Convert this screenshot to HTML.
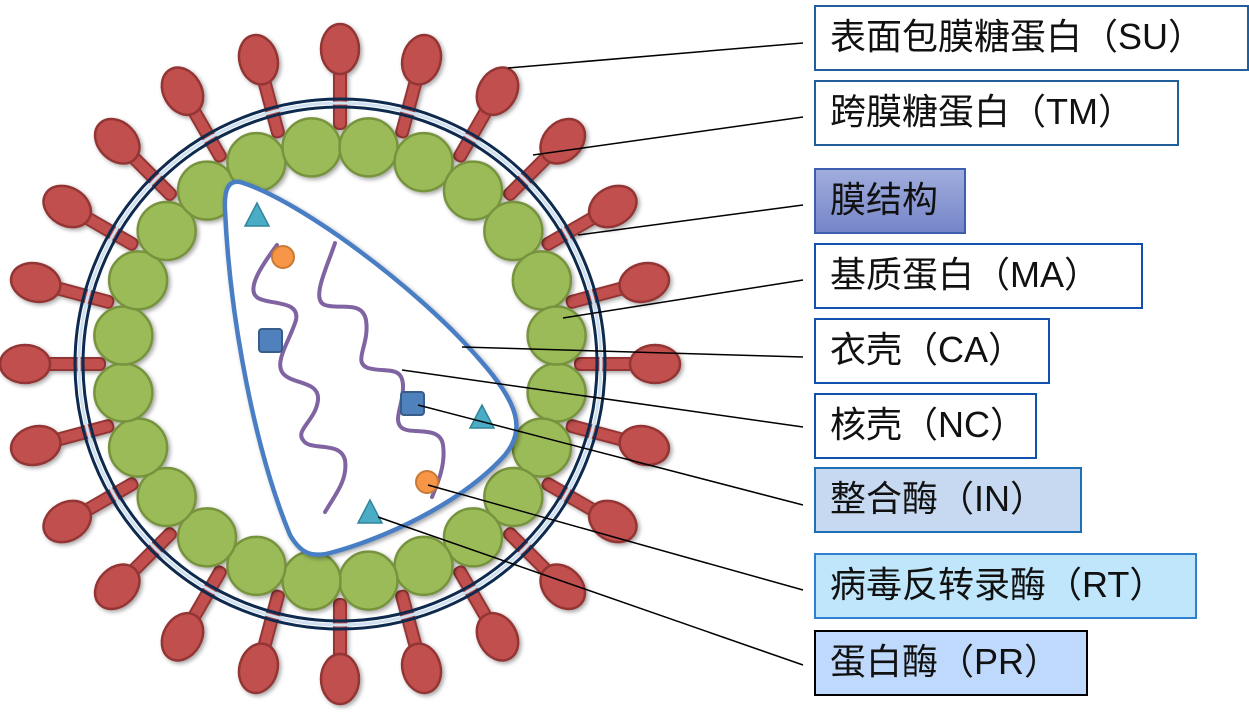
<!DOCTYPE html>
<html><head><meta charset="utf-8"><style>
body{margin:0;background:#fff;width:1249px;height:724px;overflow:hidden;position:relative;font-family:"Liberation Sans","Noto Sans CJK SC",sans-serif}
.b{position:absolute;box-sizing:border-box;border:2px solid #1f5f9a;font-size:36px;line-height:60px;padding-left:14px;color:#111;white-space:nowrap}
svg{position:absolute;left:0;top:0}
</style></head><body>
<svg width="1249" height="724" id="s">
<defs>
<filter id="sh" x="-20%" y="-20%" width="140%" height="140%"><feDropShadow dx="2" dy="2" stdDeviation="2" flood-opacity="0.35"/></filter>
</defs>
<g id="spikes" filter="url(#sh)"></g>
<circle cx="340" cy="364" r="265" fill="none" stroke="#0e2a4e" stroke-width="3"/>
<circle cx="340" cy="364" r="261" fill="none" stroke="#cfe0f0" stroke-width="3"/>
<circle cx="340" cy="364" r="257" fill="none" stroke="#0e2a4e" stroke-width="3"/>
<g id="green" filter="url(#sh)"></g>
<path d="M240,182 C300,200 420,290 480,360 C520,405 525,430 505,455 C460,505 380,540 330,553 C310,558 300,552 290,535 C255,450 230,320 225,210 C224,190 228,180 240,182 Z" fill="#fff" stroke="#4a7ec4" stroke-width="4.5" filter="url(#sh)"/>
<g fill="none" stroke="#8064a2" stroke-width="4" stroke-linecap="round">
<path d="M277,245 C262,265 245,290 258,298 C270,305 300,300 296,320 C290,340 275,360 282,372 C290,385 320,380 318,400 C316,420 295,430 303,440 C310,452 340,440 345,460 C348,480 335,495 325,512"/>
<path d="M335,243 C328,265 310,300 325,305 C340,310 362,300 366,320 C370,345 352,362 368,368 C385,373 402,365 403,385 C404,405 392,420 402,428 C412,435 440,425 443,445 C446,465 437,485 432,497"/>
</g>
<rect x="259" y="329" width="23" height="23" rx="3" fill="#4f81bd" stroke="#385d8a" stroke-width="2"/>
<rect x="401" y="392" width="23" height="23" rx="3" fill="#4f81bd" stroke="#385d8a" stroke-width="2"/>
<circle cx="283" cy="257" r="11" fill="#f79646" stroke="#c77a35" stroke-width="2"/>
<circle cx="427" cy="482" r="11" fill="#f79646" stroke="#c77a35" stroke-width="2"/>
<g fill="#4bacc6" stroke="#31859b" stroke-width="1.5">
<polygon points="257,203 245,226 269,226"/>
<polygon points="482,405 470,428 494,428"/>
<polygon points="370,500 358,523 382,523"/>
</g>
<g stroke="#000" stroke-width="1.5">
<line x1="803" y1="43" x2="508" y2="68"/>
<line x1="803" y1="117" x2="533" y2="155"/>
<line x1="803" y1="205" x2="578" y2="235"/>
<line x1="803" y1="280" x2="563" y2="318"/>
<line x1="803" y1="357" x2="462" y2="347"/>
<line x1="803" y1="427" x2="402" y2="370"/>
<line x1="803" y1="505" x2="418" y2="405"/>
<line x1="803" y1="590" x2="428" y2="485"/>
<line x1="803" y1="665" x2="378" y2="517"/>
</g>
</svg>
<div class="b" style="left:814px;top:5px;width:435px;height:66px">表面包膜糖蛋白（SU）</div>
<div class="b" style="left:814px;top:80px;width:365px;height:66px">跨膜糖蛋白（TM）</div>
<div class="b" style="left:814px;top:168px;width:152px;height:66px;border-color:#3e5fae;background:linear-gradient(#a1addd,#7585c8)">膜结构</div>
<div class="b" style="left:814px;top:243px;width:329px;height:66px;border-color:#1251b0">基质蛋白（MA）</div>
<div class="b" style="left:814px;top:318px;width:236px;height:66px;border-color:#1251b0">衣壳（CA）</div>
<div class="b" style="left:814px;top:393px;width:223px;height:66px;border-color:#1251b0">核壳（NC）</div>
<div class="b" style="left:814px;top:467px;width:268px;height:66px;background:#c6d9f1;border-color:#1f6fb5">整合酶（IN）</div>
<div class="b" style="left:814px;top:553px;width:383px;height:66px;background:#bfe6fb;border-color:#2f80d0">病毒反转录酶（RT）</div>
<div class="b" style="left:814px;top:630px;width:274px;height:66px;background:#bed9fb;border-color:#000">蛋白酶（PR）</div>
<script>
var ns="http://www.w3.org/2000/svg",cx=340,cy=364;
var sp=document.getElementById("spikes"),gr=document.getElementById("green");
for(var k=0;k<24;k++){
 var a=k*15;
 var g=document.createElementNS(ns,"g");
 g.setAttribute("transform","translate("+cx+","+cy+") rotate("+a+")");
 g.innerHTML='<rect x="235" y="-6" width="64" height="12" rx="5" fill="#c0504d" stroke="#943634" stroke-width="2"/><ellipse cx="315" cy="0" rx="25" ry="19" fill="#c0504d" stroke="#943634" stroke-width="2.5"/>';
 sp.appendChild(g);
 var b=(k*15+7.5)*Math.PI/180;
 var ci=document.createElementNS(ns,"circle");
 ci.setAttribute("cx",cx+218.5*Math.cos(b));ci.setAttribute("cy",cy+218.5*Math.sin(b));ci.setAttribute("r",29);
 ci.setAttribute("fill","#9bbb59");ci.setAttribute("stroke","#77933c");ci.setAttribute("stroke-width","2.5");
 gr.appendChild(ci);
}
</script>
</body></html>
